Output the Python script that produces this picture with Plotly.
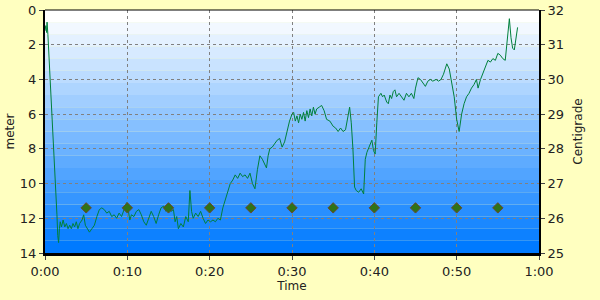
import plotly.graph_objects as go

# ---- data ----
time_min = [0.0, 0.1, 0.2, 0.25, 0.35, 0.5, 0.7, 0.9, 1.1, 1.3, 1.45, 1.55, 1.65, 1.75, 1.85,
            2.0, 2.2, 2.4, 2.6, 2.8, 3.0, 3.2, 3.4, 3.6, 3.8, 4.0, 4.2, 4.5, 4.7, 4.9,
            5.1, 5.4, 5.7, 6.0, 6.3, 6.6, 6.9, 7.2, 7.5, 7.8, 8.1, 8.4, 8.7, 9.0, 9.3,
            9.6, 9.9, 10.1, 10.3, 10.5, 10.8, 11.1, 11.4, 11.7, 12.0, 12.3, 12.6, 12.9, 13.2,
            13.5, 13.8, 14.1, 14.4, 14.7, 15.0, 15.3, 15.6, 15.8, 16.0, 16.2, 16.5, 16.8, 17.1,
            17.4, 17.6, 17.8, 18.0, 18.3, 18.6, 18.9, 19.2, 19.5, 19.8, 20.1, 20.4, 20.7, 21.0,
            21.3, 21.6, 21.9, 22.2, 22.5, 22.8, 23.1, 23.4, 23.7, 24.0, 24.3, 24.6, 24.9, 25.2,
            25.5, 25.8, 26.1, 26.4, 26.7, 26.9, 27.1, 27.3, 27.6, 27.9, 28.2, 28.5, 28.8, 29.1,
            29.4, 29.7, 30.0, 30.2, 30.4, 30.6, 30.8, 31.0, 31.2, 31.4, 31.6, 31.8, 32.0, 32.2,
            32.4, 32.6, 32.8, 33.0, 33.3, 33.6, 33.9, 34.2, 34.6, 35.0, 35.3, 35.6, 35.9, 36.2,
            36.5, 36.8, 37.0, 37.2, 37.4, 37.6, 37.8, 38.1, 38.4, 38.7, 38.9, 39.1, 39.4, 39.7,
            39.9, 40.1, 40.3, 40.5, 40.8, 41.0, 41.2, 41.5, 41.7, 41.9, 42.1, 42.3, 42.5, 42.7,
            43.0, 43.3, 43.6, 43.9, 44.2, 44.5, 44.8, 45.0, 45.3, 45.6, 45.9, 46.2, 46.5, 46.8,
            47.1, 47.5, 47.8, 48.1, 48.4, 48.8, 49.1, 49.4, 49.7, 50.0, 50.3, 50.6, 50.9, 51.2,
            51.5, 51.8, 52.1, 52.4, 52.6, 52.9, 53.2, 53.5, 53.8, 54.1, 54.4, 54.7, 55.0, 55.3,
            55.6, 55.9, 56.1, 56.4, 56.6, 56.8, 57.0, 57.2, 57.4]
depth_m = [1.2, 0.9, 1.3, 0.7, 1.4, 2.8, 4.3, 6.0, 8.0, 10.0, 11.8, 13.0, 13.4, 12.6, 12.2,
           12.5, 12.1, 12.5, 12.3, 12.6, 12.4, 12.6, 12.3, 12.5, 12.2, 12.6, 12.3, 12.1, 11.8, 12.4,
           12.6, 12.8, 12.6, 12.4, 11.9, 11.5, 11.4, 11.5, 11.7, 11.6, 11.9, 11.8, 12.0, 11.7, 11.9,
           11.5, 11.1, 11.5, 12.1, 11.8, 11.9, 11.6, 11.5, 11.8, 12.2, 12.4, 12.0, 11.6, 11.9,
           12.3, 11.8, 11.4, 11.3, 11.6, 11.4, 11.6, 11.5, 12.2, 11.9, 12.6, 12.3, 12.5, 11.9,
           12.2, 10.4, 11.6, 12.0, 11.7, 11.9, 11.6, 12.0, 12.3, 12.1, 12.2, 12.1, 12.2, 12.0,
           12.1, 11.4, 10.9, 10.5, 10.0, 9.8, 9.5, 9.7, 9.4, 9.6, 9.5, 9.7, 9.4, 10.0,
           10.3, 9.2, 8.4, 8.6, 8.9, 9.1, 8.4, 8.0, 7.9, 7.7, 7.5, 7.4, 7.9, 7.6,
           6.9, 6.4, 6.0, 5.9, 6.4, 6.1, 6.5, 6.0, 6.3, 5.9, 6.4, 5.8, 6.2, 5.7,
           6.1, 5.6, 6.0, 5.7, 5.6, 5.5, 5.8, 6.3, 6.4, 6.7, 6.8, 7.0, 6.8, 7.0,
           6.9, 6.2, 5.6, 6.5, 8.0, 10.2, 10.4, 10.5, 10.3, 10.6, 8.6, 8.2, 7.9, 7.5,
           8.1, 8.3, 6.5, 5.0, 4.8, 5.0, 4.9, 5.3, 5.4, 4.9, 5.1, 4.7, 4.6, 5.0,
           4.8, 5.0, 5.2, 4.8, 5.0, 4.8, 5.1, 4.5, 3.9, 4.0, 4.2, 4.4, 4.1, 4.0,
           4.1, 4.0, 4.1, 4.0, 3.7, 3.1, 3.4, 4.2, 5.0, 6.3, 7.0, 6.0, 5.4, 5.0,
           4.8, 4.5, 4.3, 4.0, 4.5, 4.0, 3.6, 3.3, 2.9, 3.0, 2.8, 2.9, 2.5, 2.6,
           2.8, 2.9, 1.8, 0.5, 1.6, 2.2, 2.3, 1.7, 1.0]
marker_time = [5, 10, 15, 20, 25, 30, 35, 40, 45, 50, 55]
marker_depth = [11.4] * 11
x_ticks = [0, 10, 20, 30, 40, 50, 60]
x_tick_labels = ["0:00", "0:10", "0:20", "0:30", "0:40", "0:50", "1:00"]
left_ticks = [0, 2, 4, 6, 8, 10, 12, 14]
right_ticks = [25, 26, 27, 28, 29, 30, 31, 32]

FONT = "DejaVu Sans"
fig = go.Figure()
fig.add_trace(go.Scatter(x=time_min, y=depth_m, mode="lines",
                         line=dict(color="#00803c", width=1), showlegend=False, hoverinfo="skip"))
fig.add_trace(go.Scatter(x=marker_time, y=marker_depth, mode="markers",
                         marker=dict(symbol="diamond", size=8, color="#2f7318",
                                     line=dict(color="#6b4630", width=1)),
                         showlegend=False))
# invisible trace to activate right axis
fig.add_trace(go.Scatter(x=[None], y=[None], yaxis="y2", showlegend=False))

# gradient background bands
n = 20
shapes = []
for i in range(n):
    f = i / (n - 1)
    r = int(round(255 * (1 - f)))
    g = int(round(255 - (255 - 122) * f))
    shapes.append(dict(type="rect", xref="paper", yref="paper", x0=0, x1=1,
                       y0=1 - (i + 1) / n, y1=1 - i / n, layer="below",
                       line=dict(width=0), fillcolor=f"rgb({r},{g},255)"))
# top border
shapes.append(dict(type="line", xref="paper", yref="paper", x0=0, x1=1, y0=1, y1=1,
                   line=dict(color="black", width=1)))

GRID = "#808080"
fig.update_layout(
    width=600, height=300,
    margin=dict(l=45, r=61, t=10, b=47, autoexpand=False),
    paper_bgcolor="#ffffc0", plot_bgcolor="rgba(0,0,0,0)",
    shapes=shapes,
    font=dict(family=FONT, size=12, color="#222"),
    xaxis=dict(range=[0, 60], tickvals=x_ticks, ticktext=x_tick_labels, automargin=False,
               showgrid=True, gridcolor=GRID, griddash="3px,3px", gridwidth=1,
               showline=True, linecolor="black", linewidth=3,
               ticks="outside", ticklen=4, tickcolor="#444", zeroline=False,
               title=dict(text="Time", font=dict(size=12), standoff=4),
               tickfont=dict(size=13)),
    yaxis=dict(range=[14, 0], tickvals=left_ticks, automargin=False,
               showgrid=True, gridcolor=GRID, griddash="3px,3px", gridwidth=1,
               showline=True, linecolor="black", linewidth=2,
               ticks="outside", ticklen=4, tickcolor="#444", zeroline=False,
               title=dict(text="meter", font=dict(size=12), standoff=3),
               tickfont=dict(size=13)),
    yaxis2=dict(range=[25, 32], tickvals=right_ticks, overlaying="y", side="right",
                automargin=False,
                showgrid=False, showline=True, linecolor="black", linewidth=2,
                ticks="outside", ticklen=4, tickcolor="#444", zeroline=False,
                title=dict(text="Centigrade", font=dict(size=12), standoff=10),
                tickfont=dict(size=13)),
)
fig.write_html("out.html")
